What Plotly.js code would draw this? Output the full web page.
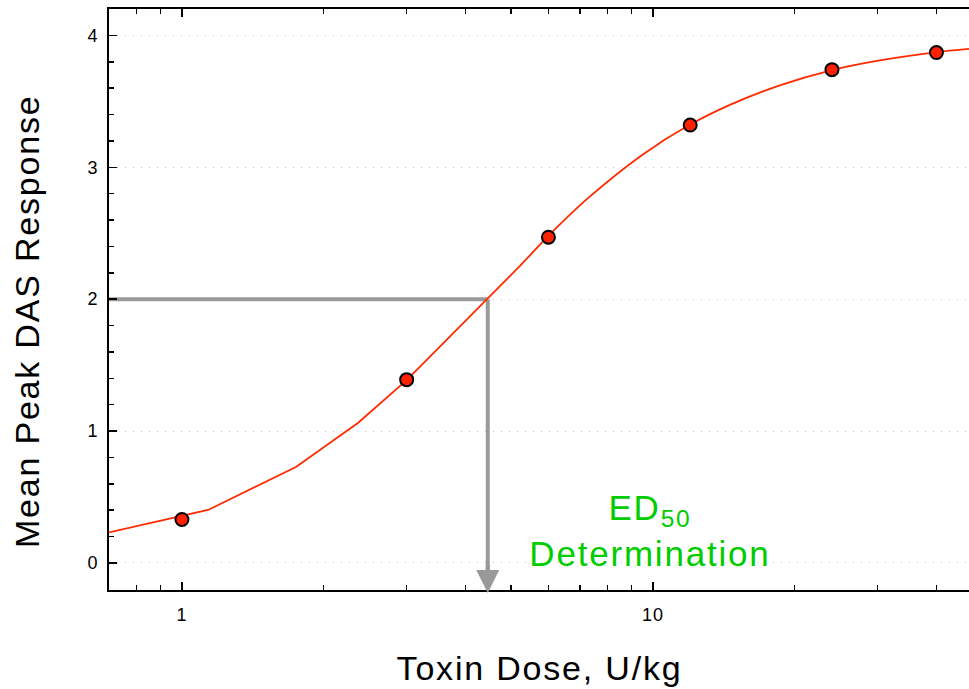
<!DOCTYPE html>
<html>
<head>
<meta charset="utf-8">
<script src="https://cdn.plot.ly/plotly-3.0.1.min.js"></script>
<style>
html,body{margin:0;padding:0;background:#fff;}
#chart{width:969px;height:689px;}
#chart .annotation-text{letter-spacing:1.8px;}
#chart .xtick text,#chart .ytick text{letter-spacing:1px;}
</style>
</head>
<body>
<div id="chart"></div>
<script>
// Observed mean peak DAS responses
const doses = [1, 3, 6, 12, 24, 40];
const responses = [0.33, 1.39, 2.47, 3.32, 3.74, 3.87];

// Fitted dose-response curve: lower part drawn as straight segments
const fitLowDoses = [0.70, 1.136, 1.746, 2.364, 3.0, 3.652, 4.465, 5.22, 5.96];
const fitLowResponses = [0.231, 0.402, 0.727, 1.061, 1.386, 1.697, 2.008, 2.252, 2.470];
// upper part is smooth
const fitHighDoses = [5.96, 7.24, 9.52, 11.92, 14.57, 18.6, 23.9, 30.3, 39.7, 46.9];
const fitHighResponses = [2.470, 2.758, 3.097, 3.318, 3.473, 3.621, 3.735, 3.810, 3.871, 3.897];

// ED50 determination
const ed50Dose = 4.46;
const ed50Response = 2;

// Axes
const xMin = 0.70, xMax = 46.9;
const yMin = -0.205, yMax = 4.2;
const xTickVals = [1, 10];
const xTickText = ['1', '10'];
const xMinorVals = [0.7, 0.8, 0.9, 2, 3, 4, 5, 6, 7, 8, 9, 20, 30, 40];
const yTickVals = [0, 1, 2, 3, 4];

const FONT = 'Arial, "Liberation Sans", sans-serif';
const GREY = '#999999';
const RED = '#ff2a00';

const traces = [
  {
    x: [xMin, ed50Dose], y: [ed50Response, ed50Response],
    mode: 'lines', line: {color: GREY, width: 4}, hoverinfo: 'skip', showlegend: false
  },
  {
    x: [ed50Dose, ed50Dose], y: [ed50Response, yMin + 0.05],
    mode: 'lines', line: {color: GREY, width: 4}, hoverinfo: 'skip', showlegend: false
  },
  {
    x: fitLowDoses, y: fitLowResponses,
    mode: 'lines', line: {color: RED, width: 1.8}, showlegend: false
  },
  {
    x: fitHighDoses, y: fitHighResponses,
    mode: 'lines', line: {color: RED, width: 1.8, shape: 'spline', smoothing: 1}, showlegend: false
  },
  {
    x: doses, y: responses,
    mode: 'markers',
    marker: {size: 13, color: '#ff2200', line: {color: '#000000', width: 2}},
    showlegend: false
  }
];

const layout = {
  width: 969, height: 689,
  margin: {l: 109, r: 0, t: 9, b: 99, pad: 0},
  paper_bgcolor: '#ffffff', plot_bgcolor: '#ffffff',
  font: {family: FONT, color: '#000000', size: 18},
  showlegend: false,
  xaxis: {
    type: 'log',
    range: [Math.log10(xMin), Math.log10(xMax)],
    tickmode: 'array', tickvals: xTickVals, ticktext: xTickText,
    ticks: 'inside', ticklen: 8, tickwidth: 1.5, tickcolor: '#000',
    minor: {tickmode: 'array', tickvals: xMinorVals, ticks: 'inside', ticklen: 5, tickwidth: 1.5, tickcolor: '#000', showgrid: false},
    showline: true, linecolor: '#000', linewidth: 2, mirror: 'ticks',
    showgrid: false, zeroline: false,
    tickfont: {size: 18, family: FONT},
    ticklabelstandoff: 7
  },
  yaxis: {
    range: [yMin, yMax],
    tickmode: 'array', tickvals: yTickVals,
    ticks: 'inside', ticklen: 8, tickwidth: 1.5, tickcolor: '#000',
    minor: {dtick: 0.2, ticks: 'inside', ticklen: 5, tickwidth: 1.5, tickcolor: '#000', showgrid: false},
    showline: true, linecolor: '#000', linewidth: 2, mirror: false,
    showgrid: true, gridcolor: '#c8c8c8', gridwidth: 1, griddash: '1px,7px',
    zeroline: false,
    tickfont: {size: 18, family: FONT},
    ticklabelstandoff: 5
  },
  annotations: [
    {
      x: Math.log10(ed50Dose), y: -0.005, xref: 'x', yref: 'paper',
      showarrow: true, arrowhead: 2, arrowsize: 1.15, arrowwidth: 4, arrowcolor: GREY,
      ax: 0, ay: -30, text: ''
    },
    {
      xref: 'paper', yref: 'paper', x: 0.629, y: 0.103,
      xanchor: 'center', yanchor: 'middle', showarrow: false,
      text: 'ED<sub>50</sub><br>Determination',
      font: {family: FONT, size: 35, color: '#00cc00'}
    },
    {
      xref: 'paper', yref: 'paper', x: 0.5, y: -0.135,
      xanchor: 'center', yanchor: 'middle', showarrow: false,
      text: 'Toxin Dose, U/kg',
      font: {family: FONT, size: 34, color: '#000'}
    },
    {
      xref: 'paper', yref: 'paper', x: -0.095, y: 0.463,
      xanchor: 'center', yanchor: 'middle', showarrow: false, textangle: -90,
      text: 'Mean Peak DAS Response',
      font: {family: FONT, size: 34, color: '#000'}
    }
  ]
};

Plotly.newPlot('chart', traces, layout, {displayModeBar: false, staticPlot: true});
</script>
</body>
</html>
